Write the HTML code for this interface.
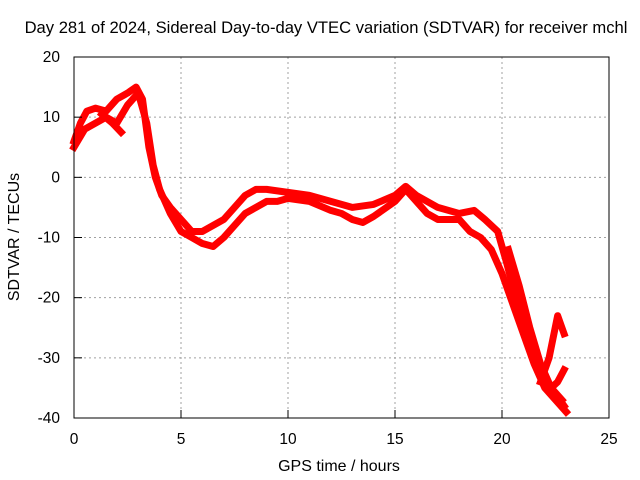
<!DOCTYPE html>
<html><head><meta charset="utf-8"><style>
body{margin:0;background:#fff}
svg{display:block;font-family:"Liberation Sans",sans-serif}
</style></head><body>
<svg id="chart" width="640" height="480" viewBox="0 0 640 480">
<rect width="640" height="480" fill="#fff"/>
<text x="326" y="33" font-size="16.6" text-anchor="middle">Day 281 of 2024, Sidereal Day-to-day VTEC variation (SDTVAR) for receiver mchl</text>
<g id="grid"></g>
<g id="series"></g>
<rect x="74" y="57" width="535" height="361" fill="none" stroke="#000" stroke-width="1"/>
<g id="ticks"></g>
<text x="339" y="471" font-size="16" text-anchor="middle">GPS time / hours</text>
<text x="0" y="0" font-size="16" text-anchor="middle" transform="translate(19,237) rotate(-90)">SDTVAR / TECUs</text>
</svg>
<script>
const xTicks=[0,5,10,15,20,25];
const yTicks=[20,10,0,-10,-20,-30,-40];
const trackAx=[0,0.3,0.6,1,1.5,2,2.5,2.9,3.2,3.5,3.8,4.1,4.5,5,5.5,6,6.5,7,7.5,8,8.5,9,10,11,12,13,14,15,15.5,16,17,18,18.7,19.2,19.8,20.2,20.8,21.3,21.8,22.3,22.8];
const trackAy=[6,9,11,11.5,11,13,14,15,13,5,0,-3,-5,-7,-9,-9,-8,-7,-5,-3,-2,-2,-2.5,-3,-4,-5,-4.5,-3,-1.5,-3,-5,-6,-5.5,-7,-9,-14,-22,-28,-33,-35,-37];
const trackBx=[0,0.5,1,1.5,2,2.5,3,3.4,3.7,4,4.5,5,5.5,6,6.5,7,7.5,8,8.5,9,9.5,10,11,12,12.5,13,13.5,14,15,15.5,16,16.5,17,18,18.5,19,19.5,20,20.5,21,21.5,22,22.5,23];
const trackBy=[5,8,9,10,9,12,14,9,2,-2,-6,-9,-10,-11,-11.5,-10,-8,-6,-5,-4,-4,-3.5,-4,-5.5,-6,-7,-7.5,-6.5,-4,-2,-4,-6,-7,-7,-9,-10,-12,-16,-21,-26,-31,-35,-37,-39];
const trackCx=[20.3,20.8,21.3,21.8,22.3,22.9];
const trackCy=[-12,-18,-25,-31,-35,-38];
const trackDx=[21.8,22.2,22.6,22.9];
const trackDy=[-34,-30,-23,-26];
const trackEx=[22.3,22.6,22.9];
const trackEy=[-35,-34,-32];
const trackFx=[1.3,1.8,2.2];
const trackFy=[10.5,9,7.5];
const X=h=>74+h*21.4;
const Y=v=>57+(20-v)*6.0167;
const NS="http://www.w3.org/2000/svg";
const grid=document.getElementById('grid'),ticks=document.getElementById('ticks'),ser=document.getElementById('series');
function mk(tag,attrs,parent){const e=document.createElementNS(NS,tag);for(const k in attrs)e.setAttribute(k,attrs[k]);parent.appendChild(e);return e;}
xTicks.forEach(t=>{
 if(t>0&&t<25){const g=mk('line',{x1:X(t),x2:X(t),y1:57,y2:418,stroke:'#a0a0a0','stroke-dasharray':'2,3'},grid);
 
 }
 const tk=mk('line',{x1:X(t),x2:X(t),y1:418,y2:410,stroke:'#000'},ticks);
 
 
 const l=mk('text',{x:X(t),y:444,'font-size':15.5,'text-anchor':'middle'},ticks);l.textContent=t;
 
 
});
yTicks.forEach(t=>{
 if(t<20&&t>-40){const g=mk('line',{x1:74,x2:609,y1:Y(t),y2:Y(t),stroke:'#a0a0a0','stroke-dasharray':'2,3'},grid);
 
 }
 const tk=mk('line',{x1:74,x2:82,y1:Y(t),y2:Y(t),stroke:'#000'},ticks);
 
 
 const l=mk('text',{x:60,y:Y(t)+5,'font-size':15.5,'text-anchor':'end'},ticks);l.textContent=t;
 
 
});
[[trackAx,trackAy],[trackBx,trackBy],[trackCx,trackCy],[trackDx,trackDy],[trackEx,trackEy],[trackFx,trackFy]].forEach(([xs,ys],i)=>{
 const p=mk('polyline',{points:xs.map((h,j)=>X(h)+','+Y(ys[j])).join(' '),fill:'none',stroke:'#ff0000','stroke-width':7,'stroke-linejoin':'round','stroke-linecap':'square'},ser);
 
 
});
</script>
</body></html>
